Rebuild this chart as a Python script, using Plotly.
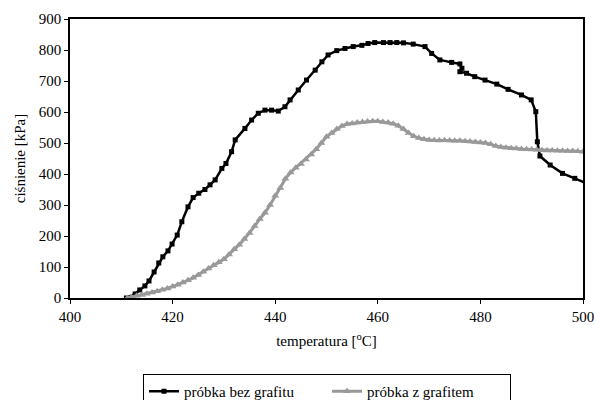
import plotly.graph_objects as go

# próbka bez grafitu (black, squares)
t_bez = [411.0, 412.7, 413.6, 414.6, 415.4, 416.4, 417.3, 418.1, 419.1, 419.9,
         420.9, 421.8, 423.0, 424.0, 425.1, 426.3, 427.3, 428.3, 429.6, 430.4,
         431.5, 432.2, 434.1, 435.4, 436.7, 438.0, 439.3, 440.6, 441.9, 442.9,
         444.5, 446.1, 447.8, 449.1, 450.3, 452.0, 453.6, 455.2, 456.9, 458.1,
         459.4, 461.1, 462.4, 463.7, 465.0, 466.9, 469.2, 470.5, 472.1, 474.4,
         476.0, 476.4, 476.0, 477.3, 478.9, 480.9, 483.2, 485.4, 488.0, 489.9,
         490.8, 491.1, 491.6, 493.6, 496.0, 498.4, 500.7]
p_bez = [0, 13, 26, 39, 55, 84, 113, 133, 152, 174,
         203, 246, 294, 324, 338, 350, 365, 381, 418, 434,
         472, 510, 547, 574, 596, 606, 606, 603, 617, 639,
         671, 703, 735, 762, 784, 798, 805, 811, 815, 821,
         824, 824, 824, 824, 823, 819, 811, 789, 768, 760,
         755, 741, 730, 725, 714, 703, 690, 673, 655, 639,
         601, 504, 458, 429, 402, 386, 370]

# próbka z grafitem (grey, triangles)
t_z = [411.2, 412, 413, 414, 415, 416, 417, 418, 419, 420,
       421, 422, 423, 424, 425, 426, 427, 428, 429, 430,
       431, 432, 433, 434, 435, 436, 437, 438, 439, 440,
       441, 442, 443, 444, 445, 446, 447, 448, 449, 450,
       451, 452, 453, 454, 455, 456, 457, 458, 459, 460,
       461, 462, 463, 464, 465, 466, 467, 468, 469, 470,
       471, 472, 473, 474, 475, 476, 477, 478, 479, 480,
       481, 482, 483, 484, 485, 486, 487, 488, 489, 490,
       491, 492, 493, 494, 495, 496, 497, 498, 499, 500, 501]
p_z = [0, 3, 7, 10, 14, 18, 22, 27, 31, 37,
       43, 50, 57, 65, 74, 85, 95, 106, 115, 125,
       140, 157, 172, 190, 210, 232, 255, 275, 300, 330,
       355, 385, 405, 420, 432, 447, 463, 480, 500, 520,
       532, 545, 555, 561, 563, 566, 568, 569, 570, 570,
       568, 566, 562, 556, 545, 532, 522, 516, 512, 510,
       509, 508, 509, 508, 507, 507, 506, 505, 503, 502,
       500, 496, 490, 487, 485, 483, 482, 481, 480, 479,
       478, 477, 476, 476, 475, 475, 474, 474, 473, 472, 471]

x_ticks = [400, 420, 440, 460, 480, 500]
y_ticks = [0, 100, 200, 300, 400, 500, 600, 700, 800, 900]

FONT = "Liberation Serif"

fig = go.Figure()
fig.add_trace(go.Scatter(
    x=t_bez, y=p_bez, mode="lines+markers", name="próbka bez grafitu",
    line=dict(color="black", width=2.5),
    marker=dict(symbol="square", size=5, color="black"),
))
fig.add_trace(go.Scatter(
    x=t_z, y=p_z, mode="lines+markers", name="próbka z grafitem",
    line=dict(color="#999999", width=3),
    marker=dict(symbol="triangle-up", size=7, color="#999999"),
))

axis_common = dict(showline=True, linecolor="black", linewidth=1.5, mirror=True,
                   ticks="outside", ticklen=4, tickcolor="black", showgrid=False,
                   zeroline=False, automargin=False, ticklabeloverflow="allow",
                   tickfont=dict(family=FONT, size=15, color="black"))

fig.update_layout(
    width=594, height=400,
    margin=dict(l=70, r=11, t=19, b=102, autoexpand=False),
    paper_bgcolor="white", plot_bgcolor="white",
    font=dict(family=FONT, size=15, color="black"),
    xaxis=dict(range=[400, 500], tickvals=x_ticks, ticktext=[str(v) for v in x_ticks],
               title=dict(text="temperatura [<sup>o</sup>C]", font=dict(family=FONT, size=15), standoff=12),
               **axis_common),
    yaxis=dict(range=[0, 900], tickvals=y_ticks, ticktext=[str(v) for v in y_ticks],
               title=dict(text="ciśnienie [kPa]", font=dict(family=FONT, size=15), standoff=10),
               **axis_common),
    legend=dict(orientation="h", xref="container", yref="container",
                x=143 / 594, xanchor="left", y=1 - 374 / 400, yanchor="top",
                bordercolor="black", borderwidth=1, bgcolor="white",
                font=dict(family=FONT, size=15), entrywidth=138, itemwidth=30),
    showlegend=True,
)

fig.write_html("out.html")
